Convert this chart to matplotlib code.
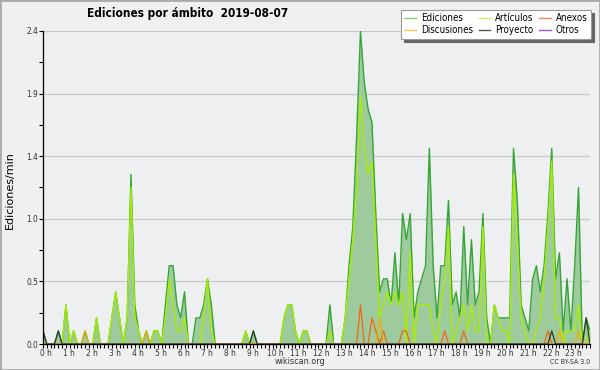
import matplotlib
matplotlib.use('Agg')
import matplotlib.pyplot as plt
import matplotlib.transforms as mtransforms
from matplotlib.lines import Line2D
from matplotlib.patches import Rectangle
import numpy as np

# ediciones por minuto, promedio por bloque de 10 min (144 bloques)
ediciones = [
    0.1, 0, 0, 0, 0.1, 0, 0.3, 0, 0.1, 0, 0, 0.1,
    0, 0, 0.2, 0, 0, 0, 0.2, 0.4, 0.2, 0, 0.2, 1.3,
    0.3, 0.1, 0, 0.1, 0, 0.1, 0.1, 0, 0.3, 0.6, 0.6, 0.3,
    0.2, 0.4, 0, 0, 0.2, 0.2, 0.3, 0.5, 0.3, 0, 0, 0,
    0, 0, 0, 0, 0, 0.1, 0, 0.1, 0, 0, 0, 0,
    0, 0, 0, 0.2, 0.3, 0.3, 0.1, 0, 0.1, 0.1, 0, 0,
    0, 0, 0, 0.3, 0, 0, 0, 0.2, 0.6, 0.9, 1.6, 2.4,
    2.0, 1.8, 1.7, 1.0, 0.4, 0.5, 0.5, 0.3, 0.7, 0.3, 1.0, 0.8,
    1.0, 0.2, 0.4, 0.5, 0.6, 1.5, 0.6, 0.2, 0.6, 0.6, 1.1, 0.3,
    0.4, 0.2, 0.9, 0.3, 0.8, 0.3, 0.4, 1.0, 0.2, 0, 0.3, 0.2,
    0.2, 0.2, 0.2, 1.5, 1.1, 0.3, 0.2, 0.1, 0.5, 0.6, 0.4, 0.6,
    1.0, 1.5, 0.5, 0.7, 0.1, 0.5, 0.1, 0.6, 1.2, 0, 0.2, 0.1,
]
articulos = [
    0, 0, 0, 0, 0, 0, 0.3, 0, 0.1, 0, 0, 0,
    0, 0, 0.2, 0, 0, 0, 0.2, 0.4, 0.2, 0, 0.2, 1.2,
    0.2, 0.1, 0, 0, 0, 0.1, 0.1, 0, 0.2, 0.5, 0.3, 0.1,
    0.1, 0.2, 0, 0, 0, 0, 0.2, 0.5, 0.1, 0, 0, 0,
    0, 0, 0, 0, 0, 0.1, 0, 0, 0, 0, 0, 0,
    0, 0, 0, 0.2, 0.3, 0.3, 0.1, 0, 0.1, 0.1, 0, 0,
    0, 0, 0, 0.1, 0, 0, 0, 0.2, 0.5, 0.8, 1.2, 1.9,
    1.5, 1.3, 1.4, 0.8, 0.2, 0.3, 0.4, 0.3, 0.4, 0.3, 0.4, 0,
    0.7, 0, 0.3, 0.3, 0.3, 0.3, 0.1, 0, 0.3, 0.5, 0.9, 0,
    0.1, 0.2, 0.3, 0.1, 0.3, 0.1, 0.1, 0.9, 0, 0, 0.3, 0.2,
    0.1, 0.1, 0, 1.3, 0.8, 0.2, 0.1, 0, 0, 0.1, 0.2, 0.5,
    0.9, 1.4, 0.2, 0.2, 0, 0.1, 0.1, 0.1, 0.3, 0, 0, 0.1,
]
anexos = [
    0, 0, 0, 0, 0, 0, 0, 0, 0, 0, 0, 0,
    0, 0, 0, 0, 0, 0, 0, 0, 0, 0, 0, 0,
    0, 0, 0, 0, 0, 0, 0, 0, 0, 0, 0, 0,
    0, 0, 0, 0, 0, 0, 0, 0, 0, 0, 0, 0,
    0, 0, 0, 0, 0, 0, 0, 0, 0, 0, 0, 0,
    0, 0, 0, 0, 0, 0, 0, 0, 0, 0, 0, 0,
    0, 0, 0, 0, 0, 0, 0, 0, 0, 0, 0, 0.3,
    0, 0, 0.2, 0.1, 0, 0.1, 0, 0, 0, 0, 0.1, 0.1,
    0, 0, 0, 0, 0, 0, 0, 0, 0, 0.1, 0, 0,
    0, 0, 0.1, 0, 0, 0, 0, 0, 0, 0, 0, 0,
    0, 0, 0, 0, 0, 0, 0, 0, 0, 0, 0, 0,
    0.1, 0, 0, 0, 0, 0, 0, 0, 0, 0, 0, 0,
]
discusiones = [
    0, 0, 0, 0, 0, 0, 0, 0, 0, 0, 0, 0.1,
    0, 0, 0, 0, 0, 0, 0, 0, 0, 0, 0, 0,
    0, 0, 0, 0.1, 0, 0, 0, 0, 0, 0, 0, 0,
    0, 0, 0, 0, 0, 0, 0, 0, 0, 0, 0, 0,
    0, 0, 0, 0, 0, 0, 0, 0, 0, 0, 0, 0,
    0, 0, 0, 0, 0, 0, 0, 0, 0, 0, 0, 0,
    0, 0, 0, 0, 0, 0, 0, 0, 0, 0, 0, 0,
    0, 0, 0, 0, 0.2, 0, 0, 0, 0, 0, 0, 0,
    0, 0, 0, 0, 0, 0, 0, 0, 0, 0, 0, 0,
    0, 0, 0, 0, 0, 0, 0, 0, 0, 0, 0, 0,
    0, 0, 0, 0, 0, 0, 0, 0, 0, 0, 0, 0,
    0, 0, 0, 0.1, 0, 0, 0, 0, 0.1, 0, 0, 0,
]
proyecto = [
    0.1, 0, 0, 0, 0.1, 0, 0, 0, 0, 0, 0, 0,
    0, 0, 0, 0, 0, 0, 0, 0, 0, 0, 0, 0,
    0, 0, 0, 0, 0, 0, 0, 0, 0, 0, 0, 0,
    0, 0, 0, 0, 0, 0, 0, 0, 0, 0, 0, 0,
    0, 0, 0, 0, 0, 0, 0, 0.1, 0, 0, 0, 0,
    0, 0, 0, 0, 0, 0, 0, 0, 0, 0, 0, 0,
    0, 0, 0, 0, 0, 0, 0, 0, 0, 0, 0, 0,
    0, 0, 0, 0, 0, 0, 0, 0, 0, 0, 0, 0,
    0, 0, 0, 0, 0, 0, 0, 0, 0, 0, 0, 0,
    0, 0, 0, 0, 0, 0, 0, 0, 0, 0, 0, 0,
    0, 0, 0, 0, 0, 0, 0, 0, 0, 0, 0, 0,
    0, 0.1, 0, 0, 0, 0, 0, 0, 0, 0, 0.2, 0,
]
otros = [
    0, 0, 0, 0, 0, 0, 0, 0, 0, 0, 0, 0,
    0, 0, 0, 0, 0, 0, 0, 0, 0, 0, 0, 0,
    0, 0, 0, 0, 0, 0, 0, 0, 0, 0, 0, 0,
    0, 0, 0, 0, 0, 0, 0, 0, 0, 0, 0, 0,
    0, 0, 0, 0, 0, 0, 0, 0, 0, 0, 0, 0,
    0, 0, 0, 0, 0, 0, 0, 0, 0, 0, 0, 0,
    0, 0, 0, 0, 0, 0, 0, 0, 0, 0, 0, 0,
    0, 0, 0, 0, 0, 0, 0, 0, 0, 0, 0, 0,
    0, 0, 0, 0, 0, 0, 0, 0, 0, 0, 0, 0,
    0, 0, 0, 0, 0, 0, 0, 0, 0, 0, 0, 0,
    0, 0, 0, 0, 0, 0, 0, 0, 0, 0, 0, 0,
    0, 0, 0, 0, 0, 0, 0, 0, 0, 0, 0, 0,
]
hour_labels = [f"{h} h" for h in range(24)]
y_ticks = [0, 0.48, 0.96, 1.44, 1.92, 2.4]

plt.rcParams['font.stretch'] = 'condensed'

t = np.arange(len(ediciones)) / 6.0

fig = plt.figure(figsize=(6, 3.7), dpi=100, facecolor='#f0f0f0')
ax = fig.add_axes([43 / 600, 26 / 370, 547 / 600, 313 / 370])
ax.set_facecolor('#eeeff1')

# area total + lineas por ambito
ax.fill_between(t, ediciones, 0, color='#9ecb9e', lw=0, zorder=1)
ax.plot(t, ediciones, color='#35a535', lw=1.0, zorder=2)
ax.plot(t, articulos, color='#a8ee00', lw=1.0, zorder=3)
ax.plot(t, anexos, color='#ee6611', lw=0.9, zorder=4)
ax.plot(t, discusiones, color='#f0b000', lw=0.9, zorder=5)
ax.plot(t, proyecto, color='#2b3b2b', lw=0.9, zorder=6)
ax.plot(t, otros, color='#9944ee', lw=0.9, zorder=6)

ax.set_xlim(0, t[-1])
ax.set_ylim(0, 2.4)
ax.set_yticks(y_ticks)
ax.set_yticklabels(['%.1f' % v for v in y_ticks])
ax.set_yticks([0.24, 0.72, 1.2, 1.68, 2.16], minor=True)
ax.set_xticks(range(24))
ax.set_xticklabels(hour_labels)
ax.set_xticks(t, minor=True)
ax.grid(axis='y', which='major', color='#c8c8c8', lw=0.9)
ax.set_axisbelow(True)
for s in ['top', 'right']:
    ax.spines[s].set_visible(False)
for s in ['left', 'bottom']:
    ax.spines[s].set_linewidth(0.9)
    ax.spines[s].set_zorder(10)
ax.tick_params(which='both', direction='out', length=3, width=0.8,
               labelsize=6, pad=0.5, colors='black', labelcolor='#333333')

offset = mtransforms.ScaledTranslation(3 / 100, 0, fig.dpi_scale_trans)
for lab in ax.get_xticklabels():
    lab.set_transform(lab.get_transform() + offset)

fig.text(188 / 600, 1 - 14 / 370, 'Ediciones por ámbito  2019-08-07',
         ha='center', va='center', fontsize=8.5, fontweight='bold')
fig.text(10 / 600, 1 - 190 / 370, 'Ediciones/min', rotation=90,
         ha='center', va='center', fontsize=8, fontstretch='normal')
fig.text(300 / 600, 1 - 362 / 370, 'wikiscan.org', ha='center', va='center',
         fontsize=6.5, color='#333333')
fig.text(590 / 600, 1 - 362 / 370, 'CC BY-SA 3.0', ha='right', va='center',
         fontsize=5, color='#333333')

handles = [
    Line2D([], [], color='#88cc88', lw=1),
    Line2D([], [], color='#eecc55', lw=1),
    Line2D([], [], color='#ccee66', lw=1),
    Line2D([], [], color='#555555', lw=1),
    Line2D([], [], color='#ee8855', lw=1),
    Line2D([], [], color='#9955ee', lw=1),
]
names = ['Ediciones', 'Discusiones', 'Artículos', 'Proyecto', 'Anexos', 'Otros']
leg = fig.legend(handles, names, ncol=3, loc='upper right',
                 bbox_to_anchor=(591 / 600, 1 - 10 / 370),
                 bbox_transform=fig.transFigure, borderaxespad=0,
                 fontsize=7, frameon=True, fancybox=False,
                 shadow={'color': '#666666', 'alpha': 1},
                 handlelength=1.2, handletextpad=0.5, columnspacing=0.6,
                 labelspacing=0.2, borderpad=0.35)
leg.get_frame().set_edgecolor('#999999')
leg.get_frame().set_linewidth(0.8)
leg.set_zorder(20)

fig.patches.append(Rectangle((0, 0), 1, 1, transform=fig.transFigure,
                             fill=False, edgecolor='#aaaaaa', lw=2))

fig.savefig('out.png', dpi=100, facecolor=fig.get_facecolor())
